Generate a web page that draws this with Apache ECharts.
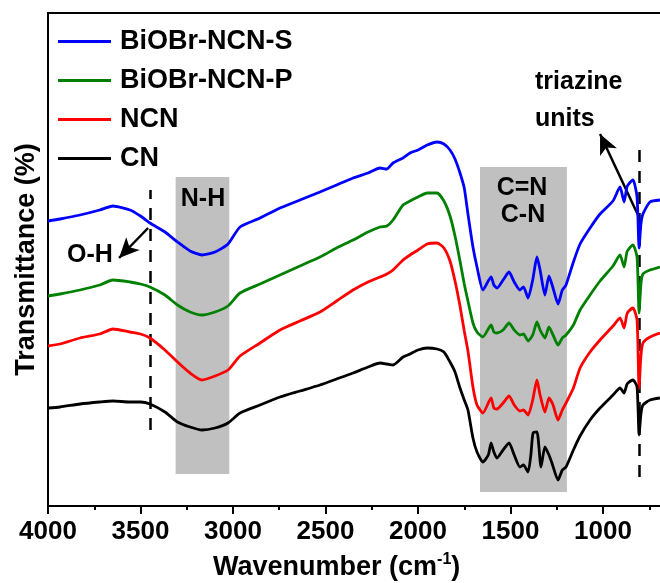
<!DOCTYPE html>
<html><head><meta charset="utf-8">
<script src="https://cdn.jsdelivr.net/npm/echarts@6/dist/echarts.min.js"></script>
<style>html,body{margin:0;padding:0;background:#fff}#c{width:660px;height:583px}</style>
</head><body><div id="c"></div>
<script>
const FONT = '"Liberation Sans", Arial, sans-serif';
const seriesNames = ['BiOBr-NCN-S', 'BiOBr-NCN-P', 'NCN', 'CN'];
const colors = ['#0000ff', '#008000', '#ff0000', '#000000'];

const waveA = [4000,3935,3827,3720,3649,3557,3500,3449,3368,3300,
  3232,3168,3097,3027,2962,2854,2746,2638,2530,2440,
  2351,2270,2205,2168,2135,2081,2043,2000,1950,1897,
  1860,1827,1800,1773,1750,1730,1703,1681,1649,1605,
  1590,1573,1540,1508,1480,1449,1430,1405,1380,1357,
  1340,1314,1292,1270,1243,1220,1200,1160,1124,1070,
  1016,946,908,886,872,865,838,816,805,795,
  784,746,692];

const transS = [285,287,291,296,300,296,290,283,274,264,
  255,251,254,262,279,288,298,306,314,321,
  328,333,338,337,343,348,353,356,361,364,
  362,356,347,333,318,292,259,239,216,229,
  221,218,226,234,224,216,219,208,226,249,
  236,211,230,218,202,216,221,244,262,278,
  292,305,319,304,318,321,326,309,258,282,
  292,304,306];

const transP = [210,212,216,221,226,224,222,219,211,201,
  194,191,194,200,213,222,231,240,249,258,
  266,274,279,280,286,301,305,309,313,313,
  305,290,270,245,222,205,183,174,169,181,
  174,173,176,183,176,171,172,165,171,184,
  176,168,179,171,161,168,171,181,196,211,
  225,240,251,239,253,256,261,249,193,222,
  232,236,239];

const transNCN = [160,162,168,172,177,174,172,168,156,144,
  133,126,130,136,150,163,176,185,194,205,
  216,224,229,232,236,246,251,256,262,263,
  258,245,225,200,175,155,119,101,93,108,
  98,97,103,110,101,95,96,91,106,126,
  111,94,108,101,86,96,103,118,138,154,
  166,180,188,178,191,194,198,186,118,150,
  163,169,173];

const waveCN = [4000,3935,3827,3720,3649,3557,3500,3449,3368,3300,
  3232,3168,3097,3027,2962,2854,2746,2638,2530,2440,
  2351,2270,2205,2168,2135,2081,2043,2000,1950,1897,
  1860,1827,1800,1773,1750,1730,1703,1681,1649,1620,
  1605,1590,1573,1540,1508,1480,1449,1430,1405,1390,
  1378,1357,1335,1314,1292,1276,1243,1220,1200,1160,
  1124,1070,1016,946,908,886,872,865,838,816,
  805,795,784,746,692];

const transCN = [98,99,102,104,105,104,104,102,94,84,
  79,76,78,83,93,101,109,115,121,127,
  133,139,143,142,141,149,152,156,158,157,
  154,144,134,118,106,96,68,54,44,51,
  63,54,48,56,63,51,39,41,34,51,
  73,74,39,59,51,43,26,36,39,56,
  70,86,98,111,118,113,121,123,126,119,
  71,92,101,106,108];

const bands = [[3310, 3020, 32, 329], [1665, 1195, 14, 339]];
const dashedLines = [[3450, 76, 316], [805, 29, 356]];
const arrows = [[3459, 278, 3616, 248], [811, 291, 1016, 372]];

const xs = [waveA, waveA, waveA, waveCN];
const ys = [transS, transP, transNCN, transCN];

const chart = echarts.init(document.getElementById('c'));
const lineSeries = seriesNames.map((n, i) => ({
  name: n, type: 'line', showSymbol: false, smooth: 0.2, z: 5,
  lineStyle: { color: colors[i], width: 2.8 }, itemStyle: { color: colors[i] },
  data: xs[i].map((x, j) => [x, ys[i][j]])
}));

const helper = {
  name: 'annot', type: 'line', data: [], z: 1, silent: true,
  markArea: {
    silent: true, itemStyle: { color: '#c0c0c0' },
    data: bands.map(b => [{ coord: [b[0], b[3]] }, { coord: [b[1], b[2]] }])
  },
  markLine: {
    silent: true, symbol: ['none', 'none'], label: { show: false },
    lineStyle: { color: '#000', width: 2.5, type: [12, 9] },
    data: dashedLines.map(d => [{ coord: [d[0], d[1]] }, { coord: [d[0], d[2]] }])
  }
};
const arrowSeries = {
  name: 'arrows', type: 'line', data: [], z: 6, silent: true,
  markLine: {
    silent: true, symbol: ['none', 'arrow'], symbolSize: [14, 20], label: { show: false },
    lineStyle: { color: '#000', width: 2.5, type: 'solid' },
    data: arrows.map(a => [{ coord: [a[0], a[1]] }, { coord: [a[2], a[3]] }])
  }
};

const bold = { fontFamily: FONT, fontWeight: 'bold', fill: '#000' };
function txt(x, y, t, align) {
  return { type: 'text', x: x, y: y, z: 100, style: Object.assign({ text: t, fontSize: 25, align: align || 'center', verticalAlign: 'middle' }, bold) };
}
chart.setOption({
  animation: false,
  backgroundColor: '#fff',
  grid: { left: 48, right: -35.5, top: 13, bottom: 77, show: true, borderColor: '#000', borderWidth: 2,
          containLabel: false, outerBoundsMode: 'none' },
  legend: {
    data: seriesNames, orient: 'vertical', left: 53, top: 23, icon: 'rect',
    itemWidth: 53, itemHeight: 3, itemGap: 12,
    textStyle: { fontFamily: FONT, fontWeight: 'bold', fontSize: 27, color: '#000', lineHeight: 26, padding: [0, 0, 0, 4] }
  },
  xAxis: {
    type: 'value', inverse: true, min: 500, max: 4000, interval: 500,
    axisLine: { show: true, lineStyle: { color: '#000', width: 2 } },
    axisTick: { show: true, inside: false, length: 8, lineStyle: { width: 2, color: '#000' } },
    minorTick: { show: true, splitNumber: 2, length: 4, lineStyle: { width: 2, color: '#000' } },
    splitLine: { show: false },
    axisLabel: { fontFamily: FONT, fontWeight: 'bold', fontSize: 26, color: '#000', margin: 13,
                 formatter: v => String(v) }
  },
  yAxis: {
    type: 'value', min: 0, max: 493,
    axisLine: { show: true, lineStyle: { color: '#000', width: 2 } },
    axisTick: { show: false }, axisLabel: { show: false }, splitLine: { show: false },
    name: 'Transmittance (%)', nameLocation: 'middle', nameRotate: 90, nameGap: 8,
    nameTextStyle: { fontFamily: FONT, fontWeight: 'bold', fontSize: 27, color: '#000' }
  },
  graphic: [
    { type: 'text', left: 213, top: 552, z: 100, style: {
      rich: { a: { fontFamily: FONT, fontWeight: 'bold', fontSize: 27, fill: '#000', lineHeight: 32 },
              s: { fontFamily: FONT, fontWeight: 'bold', fontSize: 16, fill: '#000', verticalAlign: 'top', lineHeight: 32 } },
      text: '{a|Wavenumber (cm}{s|-1}{a|)}' } },
    txt(203, 199, 'N-H'),
    txt(522, 188, 'C=N'),
    txt(523, 215, 'C-N'),
    txt(90, 255, 'O-H'),
    txt(535, 82, 'triazine', 'left'),
    txt(535, 119, 'units', 'left')
  ],
  series: [helper].concat(lineSeries).concat([arrowSeries])
});
</script></body></html>
